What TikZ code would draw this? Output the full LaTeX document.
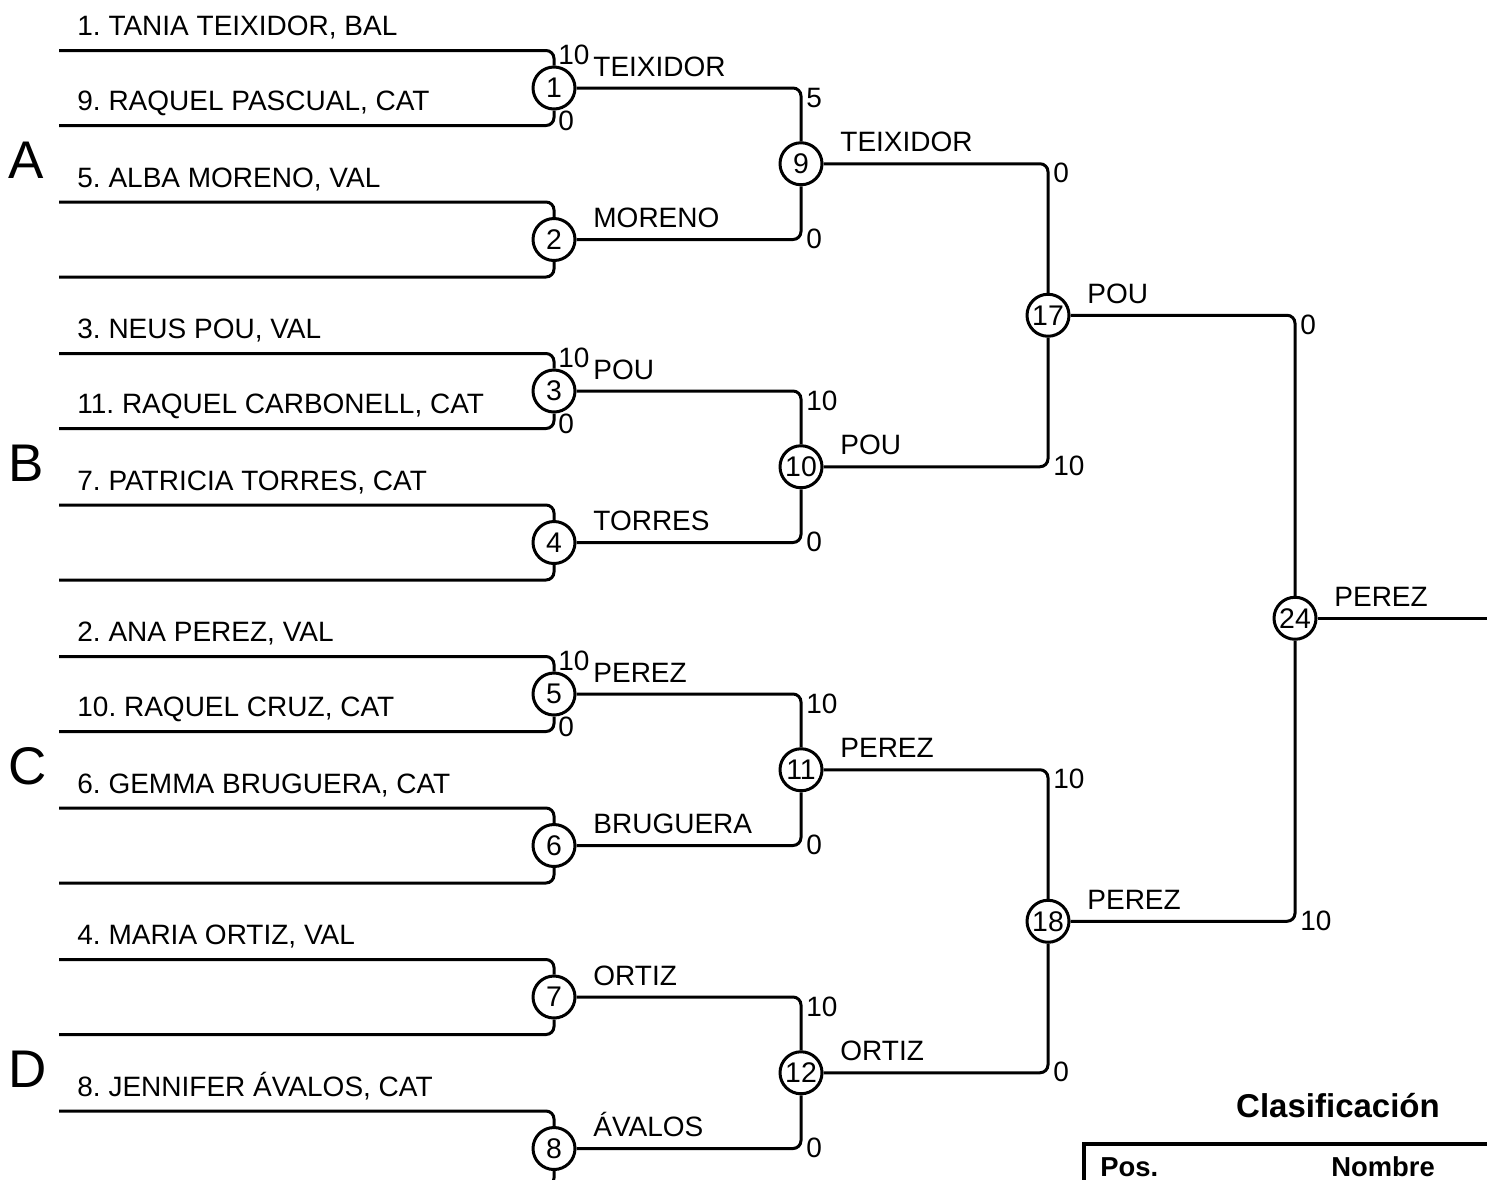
\documentclass[tikz,border=0pt]{standalone}
\usepackage{fontspec}
\setmainfont{Liberation Sans}
\usetikzlibrary{positioning}
\frenchspacing

\begin{document}
\begin{tikzpicture}[
    x=0.5pt, y=-0.5pt,
    match/.style={draw, circle, line width=1.5pt, minimum size=21pt, inner sep=0pt, font=\fontsize{14.2}{16}\selectfont},
    conn/.style={line width=1.5pt, rounded corners=4pt},
    player/.style={anchor=base west, inner sep=0pt, font=\fontsize{14}{16}\selectfont},
    winner/.style={player},
    score/.style={player},
    group/.style={anchor=base west, inner sep=0pt, font=\fontsize{26.5}{30}\selectfont},
    head/.style={anchor=base, inner sep=0pt, font=\bfseries\fontsize{13.7}{16}\selectfont}
]
\clip (0,0) rectangle (1487,1179);

% first round entries
\coordinate (e1) at (59,50.5);
\coordinate (e2) at (59,125.5);
\coordinate (e3) at (59,202);
\coordinate (e4) at (59,277);
\coordinate (e5) at (59,353.5);
\coordinate (e6) at (59,428.5);
\coordinate (e7) at (59,505);
\coordinate (e8) at (59,580);
\coordinate (e9) at (59,656.5);
\coordinate (e10) at (59,731.5);
\coordinate (e11) at (59,808);
\coordinate (e12) at (59,883);
\coordinate (e13) at (59,959.5);
\coordinate (e14) at (59,1034.5);
\coordinate (e15) at (59,1111);
\coordinate (e16) at (59,1186);

\node[player] (n1) at (77,35.5) {1. TANIA TEIXIDOR, BAL};
\node[player] (n2) at (77,110.5) {9. RAQUEL PASCUAL, CAT};
\node[player] (n3) at (77,187) {5. ALBA MORENO, VAL};
\node[player] (n5) at (77,338.5) {3. NEUS POU, VAL};
\node[player] (n6) at (77,413.5) {11. RAQUEL CARBONELL, CAT};
\node[player] (n7) at (77,490) {7. PATRICIA TORRES, CAT};
\node[player] (n9) at (77,641.5) {2. ANA PEREZ, VAL};
\node[player] (n10) at (77,716.5) {10. RAQUEL CRUZ, CAT};
\node[player] (n11) at (77,793) {6. GEMMA BRUGUERA, CAT};
\node[player] (n13) at (77,944.5) {4. MARIA ORTIZ, VAL};
\node[player] (n15) at (77,1096) {8. JENNIFER ÁVALOS, CAT};

% groups
\node[group] (ga) at (8,178) {A};
\node[group] (gb) at (8,481) {B};
\node[group] (gc) at (8,784) {C};
\node[group] (gd) at (8,1087) {D};

% matches
\node[match] (m1) at (554,88) {1};
\node[match] (m2) at (554,239.5) {2};
\node[match] (m3) at (554,391) {3};
\node[match] (m4) at (554,542.5) {4};
\node[match] (m5) at (554,694) {5};
\node[match] (m6) at (554,845.5) {6};
\node[match] (m7) at (554,997) {7};
\node[match] (m8) at (554,1148.5) {8};
\node[match] (m9) at (801,163.75) {9};
\node[match] (m10) at (801,466.75) {10};
\node[match] (m11) at (801,769.75) {11};
\node[match] (m12) at (801,1072.75) {12};
\node[match] (m17) at (1048,315.25) {17};
\node[match] (m18) at (1048,921.25) {18};
\node[match] (m24) at (1295,618.25) {24};
\coordinate (fin) at (1487,618.25);

\draw[conn] (e1) -| (m1);
\draw[conn] (e2) -| (m1);
\draw[conn] (e3) -| (m2);
\draw[conn] (e4) -| (m2);
\draw[conn] (e5) -| (m3);
\draw[conn] (e6) -| (m3);
\draw[conn] (e7) -| (m4);
\draw[conn] (e8) -| (m4);
\draw[conn] (e9) -| (m5);
\draw[conn] (e10) -| (m5);
\draw[conn] (e11) -| (m6);
\draw[conn] (e12) -| (m6);
\draw[conn] (e13) -| (m7);
\draw[conn] (e14) -| (m7);
\draw[conn] (e15) -| (m8);
\draw[conn] (e16) -| (m8);
\draw[conn] (m1) -| (m9);
\draw[conn] (m2) -| (m9);
\draw[conn] (m3) -| (m10);
\draw[conn] (m4) -| (m10);
\draw[conn] (m5) -| (m11);
\draw[conn] (m6) -| (m11);
\draw[conn] (m7) -| (m12);
\draw[conn] (m8) -| (m12);
\draw[conn] (m9) -| (m17);
\draw[conn] (m10) -| (m17);
\draw[conn] (m11) -| (m18);
\draw[conn] (m12) -| (m18);
\draw[conn] (m17) -| (m24);
\draw[conn] (m18) -| (m24);
\draw[conn] (m24) -- (fin);

% winners
\node[winner] (w1) at (593,76) {TEIXIDOR};
\node[winner] (w2) at (593,227.5) {MORENO};
\node[winner] (w3) at (593,379) {POU};
\node[winner] (w4) at (593,530.5) {TORRES};
\node[winner] (w5) at (593,682) {PEREZ};
\node[winner] (w6) at (593,833.5) {BRUGUERA};
\node[winner] (w7) at (593,985) {ORTIZ};
\node[winner] (w8) at (593,1136.5) {ÁVALOS};
\node[winner] (w9) at (840,151.75) {TEIXIDOR};
\node[winner] (w10) at (840,454.75) {POU};
\node[winner] (w11) at (840,757.75) {PEREZ};
\node[winner] (w12) at (840,1060.75) {ORTIZ};
\node[winner] (w17) at (1087,303.25) {POU};
\node[winner] (w18) at (1087,909.25) {PEREZ};
\node[winner] (w24) at (1334,606.25) {PEREZ};

% scores
\node[score] (s1a) at (558,64.5) {10};
\node[score] (s1b) at (558,130.5) {0};
\node[score] (s3a) at (558,367.5) {10};
\node[score] (s3b) at (558,433.5) {0};
\node[score] (s5a) at (558,670.5) {10};
\node[score] (s5b) at (558,736.5) {0};
\node[score] (s9a) at (806,107) {5};
\node[score] (s9b) at (806,248.5) {0};
\node[score] (s10a) at (806,410) {10};
\node[score] (s10b) at (806,551.5) {0};
\node[score] (s11a) at (806,713) {10};
\node[score] (s11b) at (806,854.5) {0};
\node[score] (s12a) at (806,1016) {10};
\node[score] (s12b) at (806,1157.5) {0};
\node[score] (s17a) at (1053,182.75) {0};
\node[score] (s17b) at (1053,475.75) {10};
\node[score] (s18a) at (1053,788.75) {10};
\node[score] (s18b) at (1053,1081.75) {0};
\node[score] (s24a) at (1300,334.25) {0};
\node[score] (s24b) at (1300,930.25) {10};

% classification table
\node[head, font=\bfseries\fontsize{16.5}{19}\selectfont] (title) at (1338,1117) {Clasificación};
\coordinate (tr) at (1490,1143.5);
\coordinate (tc) at (1083.5,1143.5);
\coordinate (tb) at (1083.5,1200);
\draw[line width=2pt] (tr) -- (tc) -- (tb);
\node[head, anchor=base west] (pos) at (1100,1176) {Pos.};
\node[head] (nom) at (1383,1176) {Nombre};
\end{tikzpicture}
\end{document}
